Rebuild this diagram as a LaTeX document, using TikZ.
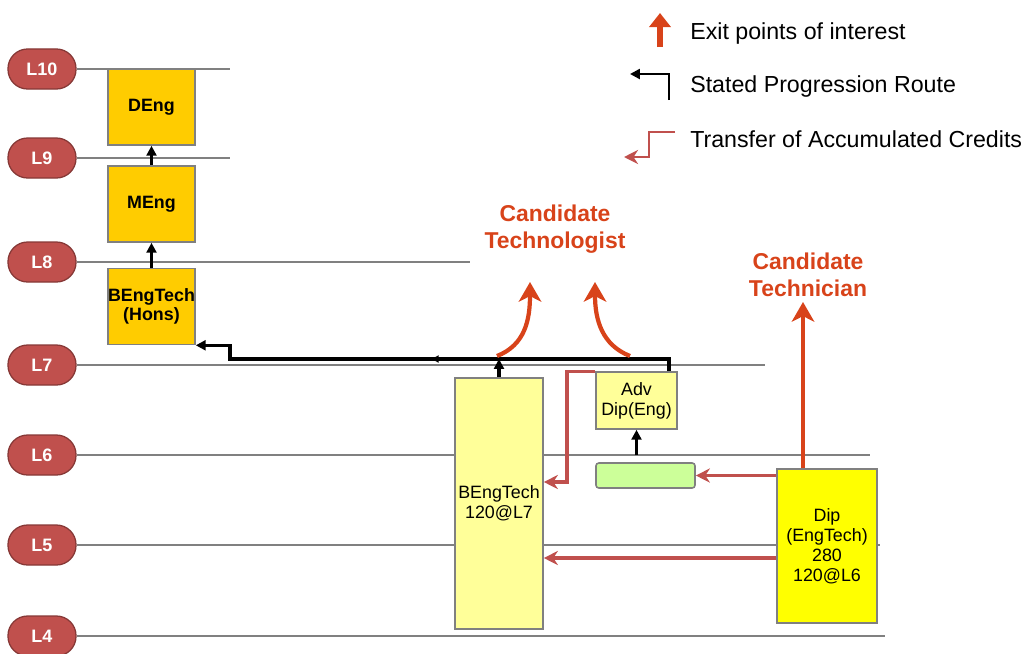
\documentclass[tikz,border=0pt]{standalone}
\usepackage{fontspec}
\setmainfont{Liberation Sans}
\usetikzlibrary{positioning,arrows.meta,calc,decorations.markings}
\definecolor{pillred}{HTML}{C0504D}
\definecolor{credred}{HTML}{C0504D}
\definecolor{exitred}{HTML}{D8431A}
\definecolor{gold}{HTML}{FFCC00}
\definecolor{paleyellow}{HTML}{FFFF99}
\definecolor{paleGreen}{HTML}{CCFF99}
\definecolor{dipyellow}{HTML}{FFFF00}

\begin{document}
\begin{tikzpicture}[
  x=0.025cm, y=-0.025cm,
  levelpill/.style={rectangle, rounded corners=4.9mm, draw=pillred!70!black, line width=0.9pt,
               fill=pillred, minimum width=17mm, minimum height=10mm, inner sep=0pt,
               text=white, font=\fontsize{12.8}{14}\selectfont\bfseries},
  levelline/.style={draw=black!50, line width=1.4pt},
  award/.style={rectangle, draw=black!50, line width=1.1pt, inner sep=0pt, align=center,
               font=\fontsize{12.7}{14.2}\selectfont},
  upper/.style={award, fill=gold, minimum width=21.75mm, minimum height=19mm,
               font=\fontsize{12.7}{13.5}\selectfont\bfseries},
  route/.style={-{Triangle[length=7pt,width=7pt]}, line width=2.4pt, draw=black},
  transfer/.style={-{Stealth[length=10pt,width=10pt]}, line width=2.4pt, draw=credred},
  exitarrow/.style={-{Stealth[length=14pt,width=16pt,inset=4pt]}, line width=3pt, draw=exitred},
  cand/.style={text=exitred, font=\fontsize{16.3}{19}\selectfont\bfseries, align=center},
  legendtext/.style={anchor=west, inner sep=0pt, font=\fontsize{16.5}{19}\selectfont}
]
\useasboundingbox (0,0) rectangle (1025,653);

% Levels and their lines
\foreach \lv/\y/\xe in {10/69/230, 9/158/230, 8/262/470, 7/365/765, 6/455/870, 5/545/880, 4/636/885} {
  \node[levelpill] (l\lv) at (42,\y) {L\lv};
  \coordinate (e\lv) at (\xe,\y);
  \draw[levelline] (l\lv.east) -- (e\lv);
}

% Upper awards
\node[upper] (deng) at (151.5,107) {DEng};
\node[upper] (meng) at (151.5,204) {MEng};
\node[upper] (hons) at (151.5,306.5) {BEngTech\\(Hons)};

% Lower awards
\node[award, fill=paleyellow, minimum width=22mm, minimum height=62.75mm] (beng7) at (499,503.5) {BEngTech\\120@L7};
\node[award, fill=paleyellow, minimum width=20.25mm, minimum height=14.25mm] (adv) at (636.5,400.5) {Adv\\Dip(Eng)};
\node[award, fill=paleGreen, rounded corners=2pt, minimum width=24.75mm, minimum height=6.25mm] (cert) at (645.5,475.5) {};
\node[award, fill=dipyellow, minimum width=25mm, minimum height=38.5mm] (dip) at (827,546) {Dip\\(EngTech)\\280\\120@L6};

% Stated progression route
\coordinate (rt) at (669,359);
\coordinate (kink) at (230,359);
\draw[route] (meng.north) -- (deng.south);
\draw[route] (hons.north) -- (meng.south);
\draw[route, postaction={decorate}, decoration={markings,
      mark=at position 0.5 with {\arrow{Triangle[length=5pt,width=5pt]}}}]
  (adv.north -| rt) -- (rt) -- (kink) |- (hons.south east);
\draw[route] (beng7.north) -- (beng7.north |- rt);
\draw[route] (adv.south |- e6) -- (adv.south);

% Transfer of credits
\coordinate (tf) at (567,482);
\coordinate (tlow) at (0,558);
\draw[transfer] (dip.west |- cert.east) -- (cert.east);
\draw[transfer] (dip.west |- tlow) -- (beng7.east |- tlow);
\draw[transfer] (adv.north west) -| (tf) -- (beng7.east |- tf);

% Exit points
\coordinate (j1) at (497,356);
\coordinate (j2) at (630,356);
\coordinate (tg1) at (530,282);
\coordinate (tg2) at (595,282);
\coordinate (tc) at (803,302);
\draw[exitarrow] (j1) .. controls (525,345) and (530,320) .. (tg1);
\draw[exitarrow] (j2) .. controls (602,345) and (595,320) .. (tg2);
\draw[exitarrow] (tc |- dip.north) -- (tc);
\node[cand] (techlog) at (555,229) {Candidate\\Technologist};
\node[cand] (technic) at (808,275) {Candidate\\Technician};

% Legend
\coordinate (kexA) at (660,47);
\coordinate (kexB) at (660,13);
\coordinate (krA) at (669,100);
\coordinate (krB) at (630,74);
\coordinate (ktA) at (675,132);
\coordinate (ktM) at (649,157);
\coordinate (ktB) at (624,157);
\draw[draw=exitred, line width=4.5pt, -{Triangle[length=10pt,width=15pt]}] (kexA) -- (kexB);
\draw[route, line width=2pt] (krA) |- (krB);
\draw[transfer, line width=2pt] (ktA) -| (ktM) -- (ktB);
\node[legendtext] (kex) at (690,33) {Exit points of interest};
\node[legendtext] (kroute) at (690,86) {Stated Progression Route};
\node[legendtext] (ktrans) at (690,139) {Transfer of Accumulated Credits};

\end{tikzpicture}
\end{document}
